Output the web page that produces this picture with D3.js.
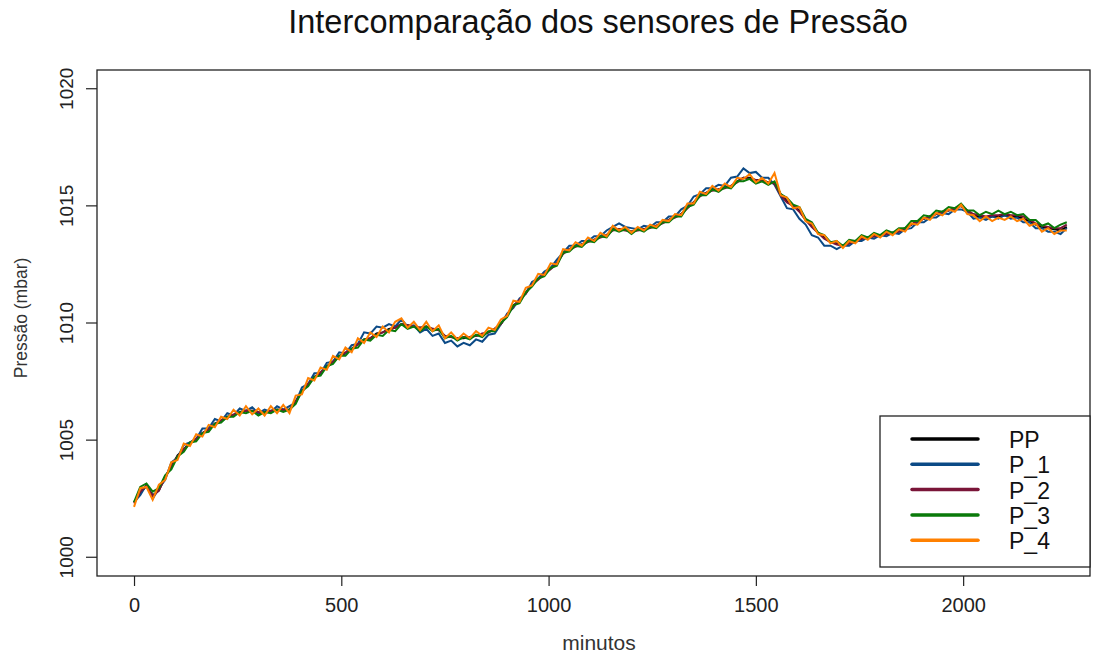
<!DOCTYPE html>
<html>
<head>
<meta charset="utf-8">
<script src="https://cdn.jsdelivr.net/npm/d3@7"></script>
<style>
  body { margin: 0; background: #fff; }
  text { font-family: "Liberation Sans", Arial, sans-serif; }
</style>
</head>
<body>
<div id="chart"></div>
<script>
// leituras a cada 15 minutos (0 .. 2250)
var stepMin = 15;

var PP = [
1002.35,1002.75,1003.05,1002.65,1002.85,1003.45,1003.85,1004.35,1004.60,1004.90,
1005.05,1005.30,1005.45,1005.70,1005.80,1006.00,1006.05,1006.20,1006.25,1006.25,
1006.15,1006.20,1006.25,1006.30,1006.30,1006.30,1006.65,1007.10,1007.40,1007.70,
1007.85,1008.15,1008.35,1008.60,1008.70,1008.90,1009.10,1009.30,1009.35,1009.55,
1009.60,1009.75,1009.80,1009.95,1009.90,1009.85,1009.80,1009.85,1009.75,1009.70,
1009.45,1009.40,1009.35,1009.35,1009.40,1009.45,1009.50,1009.60,1009.75,1009.95,
1010.35,1010.75,1010.95,1011.30,1011.65,1011.90,1012.10,1012.35,1012.55,1013.00,
1013.15,1013.30,1013.35,1013.50,1013.55,1013.70,1013.75,1014.00,1014.00,1014.00,
1013.90,1014.00,1014.00,1014.10,1014.15,1014.30,1014.40,1014.55,1014.65,1014.95,
1015.15,1015.45,1015.55,1015.70,1015.70,1015.80,1015.85,1016.05,1016.20,1016.20,
1016.10,1016.10,1016.00,1016.00,1015.50,1015.20,1015.00,1014.80,1014.40,1014.15,
1013.85,1013.65,1013.45,1013.40,1013.30,1013.40,1013.45,1013.60,1013.65,1013.70,
1013.75,1013.80,1013.85,1013.90,1014.05,1014.20,1014.35,1014.45,1014.55,1014.65,
1014.75,1014.80,1014.90,1015.00,1014.80,1014.60,1014.55,1014.50,1014.55,1014.55,
1014.60,1014.55,1014.55,1014.45,1014.35,1014.20,1014.10,1014.05,1014.00,1013.95,
1014.10];

var P_1 = [
1002.35,1002.65,1003.10,1002.50,1002.95,1003.30,1004.05,1004.25,1004.80,1004.90,
1005.05,1005.50,1005.50,1005.90,1005.80,1006.15,1006.05,1006.35,1006.25,1006.40,
1006.15,1006.30,1006.20,1006.45,1006.30,1006.45,1006.60,1007.25,1007.40,1007.85,
1007.85,1008.30,1008.35,1008.75,1008.70,1009.05,1009.10,1009.60,1009.55,1009.85,
1009.80,1009.95,1009.85,1010.15,1009.85,1009.90,1009.60,1009.75,1009.45,1009.55,
1009.15,1009.25,1009.00,1009.15,1009.05,1009.30,1009.20,1009.50,1009.55,1009.95,
1010.40,1010.65,1011.05,1011.25,1011.75,1011.90,1012.20,1012.35,1012.70,1013.00,
1013.30,1013.30,1013.50,1013.50,1013.70,1013.70,1013.95,1014.10,1014.25,1014.10,
1014.05,1014.00,1014.15,1014.10,1014.30,1014.30,1014.55,1014.55,1014.85,1015.00,
1015.40,1015.50,1015.75,1015.75,1015.90,1015.85,1016.20,1016.25,1016.60,1016.40,
1016.45,1016.20,1016.20,1015.90,1015.40,1014.90,1014.85,1014.45,1014.20,1013.75,
1013.65,1013.30,1013.30,1013.15,1013.30,1013.30,1013.50,1013.50,1013.65,1013.60,
1013.75,1013.70,1013.85,1013.80,1014.00,1014.05,1014.30,1014.30,1014.50,1014.50,
1014.70,1014.65,1014.85,1014.85,1014.75,1014.45,1014.50,1014.40,1014.55,1014.45,
1014.60,1014.45,1014.50,1014.30,1014.30,1014.05,1014.05,1013.90,1013.90,1013.80,
1014.05];

var P_2 = [
1002.30,1002.80,1003.05,1002.60,1002.85,1003.40,1003.90,1004.30,1004.60,1004.85,
1005.05,1005.30,1005.45,1005.70,1005.85,1005.95,1006.10,1006.15,1006.25,1006.25,
1006.20,1006.15,1006.25,1006.30,1006.30,1006.30,1006.65,1007.05,1007.40,1007.65,
1007.90,1008.10,1008.35,1008.55,1008.75,1008.85,1009.10,1009.25,1009.35,1009.50,
1009.60,1009.70,1009.80,1009.95,1009.90,1009.85,1009.80,1009.85,1009.75,1009.70,
1009.45,1009.40,1009.35,1009.40,1009.40,1009.45,1009.55,1009.60,1009.75,1009.95,
1010.35,1010.70,1011.00,1011.25,1011.65,1011.85,1012.10,1012.30,1012.55,1012.95,
1013.15,1013.25,1013.35,1013.45,1013.55,1013.65,1013.75,1013.95,1014.00,1013.95,
1013.90,1013.95,1014.00,1014.05,1014.15,1014.25,1014.40,1014.50,1014.65,1014.90,
1015.15,1015.40,1015.55,1015.65,1015.70,1015.75,1015.85,1016.00,1016.20,1016.15,
1016.10,1016.05,1016.00,1015.95,1015.45,1015.15,1015.00,1014.75,1014.40,1014.10,
1013.85,1013.60,1013.45,1013.35,1013.30,1013.40,1013.50,1013.60,1013.65,1013.70,
1013.75,1013.80,1013.85,1013.90,1014.05,1014.20,1014.35,1014.45,1014.55,1014.65,
1014.75,1014.80,1014.90,1015.00,1014.80,1014.65,1014.60,1014.55,1014.60,1014.60,
1014.65,1014.60,1014.60,1014.55,1014.40,1014.25,1014.15,1014.10,1014.05,1014.05,
1014.20];

var P_3 = [
1002.35,1003.00,1003.15,1002.80,1002.95,1003.50,1003.75,1004.30,1004.50,1004.90,
1004.95,1005.30,1005.35,1005.70,1005.75,1006.00,1006.00,1006.20,1006.15,1006.25,
1006.05,1006.20,1006.15,1006.30,1006.20,1006.30,1006.55,1007.10,1007.30,1007.70,
1007.75,1008.15,1008.25,1008.60,1008.60,1008.90,1008.95,1009.30,1009.25,1009.50,
1009.45,1009.70,1009.65,1009.95,1009.75,1009.85,1009.65,1009.85,1009.65,1009.75,
1009.35,1009.45,1009.25,1009.40,1009.30,1009.50,1009.40,1009.65,1009.65,1010.00,
1010.25,1010.75,1010.85,1011.30,1011.55,1011.90,1012.00,1012.35,1012.45,1013.00,
1013.05,1013.30,1013.25,1013.50,1013.45,1013.70,1013.65,1014.00,1013.90,1014.00,
1013.80,1014.00,1013.90,1014.10,1014.05,1014.30,1014.30,1014.55,1014.55,1014.95,
1015.05,1015.45,1015.45,1015.70,1015.60,1015.80,1015.75,1016.05,1016.05,1016.15,
1015.95,1016.05,1015.90,1016.05,1015.50,1015.35,1015.05,1014.95,1014.45,1014.30,
1013.85,1013.75,1013.45,1013.50,1013.30,1013.55,1013.50,1013.75,1013.65,1013.85,
1013.75,1013.95,1013.85,1014.05,1014.05,1014.35,1014.35,1014.60,1014.55,1014.80,
1014.75,1014.95,1014.90,1015.10,1014.80,1014.80,1014.60,1014.75,1014.65,1014.80,
1014.65,1014.75,1014.60,1014.65,1014.40,1014.40,1014.15,1014.25,1014.05,1014.20,
1014.30];

var P_4 = [
1002.15,1002.95,1003.00,1002.45,1003.10,1003.30,1004.05,1004.15,1004.85,1004.75,
1005.25,1005.15,1005.65,1005.55,1006.00,1005.90,1006.30,1006.05,1006.45,1006.10,
1006.35,1006.05,1006.45,1006.15,1006.50,1006.15,1006.90,1006.95,1007.65,1007.55,
1008.10,1008.00,1008.60,1008.45,1008.95,1008.75,1009.35,1009.15,1009.60,1009.40,
1009.85,1009.60,1010.05,1010.20,1009.80,1010.05,1009.70,1010.05,1009.65,1009.90,
1009.35,1009.60,1009.30,1009.55,1009.35,1009.65,1009.45,1009.80,1009.70,1010.15,
1010.30,1010.95,1010.90,1011.50,1011.60,1012.10,1012.05,1012.55,1012.50,1013.15,
1013.10,1013.45,1013.30,1013.65,1013.50,1013.85,1013.70,1014.15,1013.95,1014.10,
1013.85,1014.10,1013.95,1014.20,1014.10,1014.40,1014.35,1014.65,1014.60,1015.10,
1015.10,1015.60,1015.50,1015.85,1015.65,1015.95,1015.80,1016.20,1016.15,1016.35,
1016.00,1016.20,1015.95,1016.40,1015.45,1015.35,1014.90,1014.95,1014.35,1014.25,
1013.80,1013.75,1013.40,1013.50,1013.20,1013.50,1013.40,1013.70,1013.55,1013.80,
1013.65,1013.90,1013.75,1014.00,1013.90,1014.25,1014.20,1014.50,1014.40,1014.70,
1014.60,1014.85,1014.75,1015.05,1014.65,1014.60,1014.35,1014.55,1014.35,1014.50,
1014.40,1014.55,1014.35,1014.45,1014.15,1014.25,1013.90,1014.05,1013.80,1013.95,
1013.95];

var seriesNames = ["PP", "P_1", "P_2", "P_3", "P_4"];
var seriesValues = [PP, P_1, P_2, P_3, P_4];
var seriesColors = ["#000000", "#0b4a86", "#7a1538", "#0a7a0a", "#ff8000"];

var xTicks = [0, 500, 1000, 1500, 2000];
var yTicks = [1000, 1005, 1010, 1015, 1020];

var svgWidth = 1098;
var svgHeight = 655;

var plot = { left: 97, right: 1090, top: 70, bottom: 576 };

var svg = d3.select("#chart")
    .append("svg")
    .attr("width", svgWidth)
    .attr("height", svgHeight)
    .style("display", "block");

svg.append("rect").attr("width", svgWidth).attr("height", svgHeight).attr("fill", "#fff");

var x = d3.scaleLinear().domain([-89.3, 2306]).range([plot.left, plot.right]);
var y = d3.scaleLinear().domain([999.2, 1020.8]).range([plot.bottom, plot.top]);

// linhas dos sensores
var line = d3.line()
    .x(function(d, i) { return x(i * stepMin); })
    .y(function(d) { return y(d); });

svg.append("g")
    .selectAll("path")
    .data(seriesValues)
    .enter()
    .append("path")
    .attr("d", line)
    .attr("fill", "none")
    .attr("stroke", function(d, i) { return seriesColors[i]; })
    .attr("stroke-width", 2)
    .attr("stroke-linejoin", "miter")
    .attr("stroke-miterlimit", 3);

// caixa do grafico
svg.append("rect")
    .attr("x", plot.left)
    .attr("y", plot.top)
    .attr("width", plot.right - plot.left)
    .attr("height", plot.bottom - plot.top)
    .attr("fill", "none")
    .attr("stroke", "#222")
    .attr("stroke-width", 1.3);

// eixos
var bottomAxis = d3.axisBottom(x).tickValues(xTicks).tickSize(10).tickPadding(12).tickFormat(d3.format("d"));
var leftAxis = d3.axisLeft(y).tickValues(yTicks).tickSize(11).tickFormat(d3.format("d"));

var gx = svg.append("g")
    .attr("transform", "translate(0," + plot.bottom + ")")
    .call(bottomAxis);
gx.select(".domain").remove();
gx.selectAll("line").attr("stroke", "#222").attr("stroke-width", 1.2);
gx.selectAll("text")
    .attr("font-size", 20)
    .attr("fill", "#222")
    .attr("font-family", "Liberation Sans, Arial, sans-serif");

var gy = svg.append("g")
    .attr("transform", "translate(" + plot.left + ",0)")
    .call(leftAxis);
gy.select(".domain").remove();
gy.selectAll("line").attr("stroke", "#222").attr("stroke-width", 1.2);
gy.selectAll("text")
    .attr("font-size", 19)
    .attr("fill", "#222")
    .attr("font-family", "Liberation Sans, Arial, sans-serif")
    .attr("x", null)
    .attr("text-anchor", "middle")
    .attr("transform", function(d) { return "translate(-31," + y(d) + ") rotate(-90)"; })
    .attr("y", 0)
    .attr("dy", "0.35em");
gy.selectAll(".tick").attr("transform", "translate(0,0)");
gy.selectAll(".tick line").attr("transform", function(d) { return "translate(0," + y(d) + ")"; });

// titulos
svg.append("text")
    .attr("x", 598)
    .attr("y", 33)
    .attr("text-anchor", "middle")
    .attr("font-size", 32.5)
    .attr("fill", "#111")
    .text("Intercomparação dos sensores de Pressão");

svg.append("text")
    .attr("x", 599)
    .attr("y", 650)
    .attr("text-anchor", "middle")
    .attr("font-size", 21)
    .attr("fill", "#333")
    .text("minutos");

svg.append("text")
    .attr("transform", "translate(27," + ((plot.top + plot.bottom) / 2 - 5) + ") rotate(-90)")
    .attr("text-anchor", "middle")
    .attr("font-size", 17.5)
    .attr("fill", "#333")
    .text("Pressão (mbar)");

// legenda
var legend = svg.append("g");
legend.append("rect")
    .attr("x", 880)
    .attr("y", 416)
    .attr("width", 210)
    .attr("height", 151)
    .attr("fill", "#fff")
    .attr("stroke", "#222")
    .attr("stroke-width", 1.3);

var legendItems = legend.selectAll(".item")
    .data(seriesNames)
    .enter()
    .append("g")
    .attr("class", "item")
    .attr("transform", function(d, i) { return "translate(0," + (439 + i * 25.3) + ")"; });

legendItems.append("line")
    .attr("x1", 912)
    .attr("x2", 978)
    .attr("stroke", function(d, i) { return seriesColors[i]; })
    .attr("stroke-width", 3.5)
    .attr("stroke-linecap", "round");

legendItems.append("text")
    .attr("x", 1009)
    .attr("y", 9)
    .attr("font-size", 23)
    .attr("fill", "#111")
    .text(function(d) { return d; });
</script>
</body>
</html>
